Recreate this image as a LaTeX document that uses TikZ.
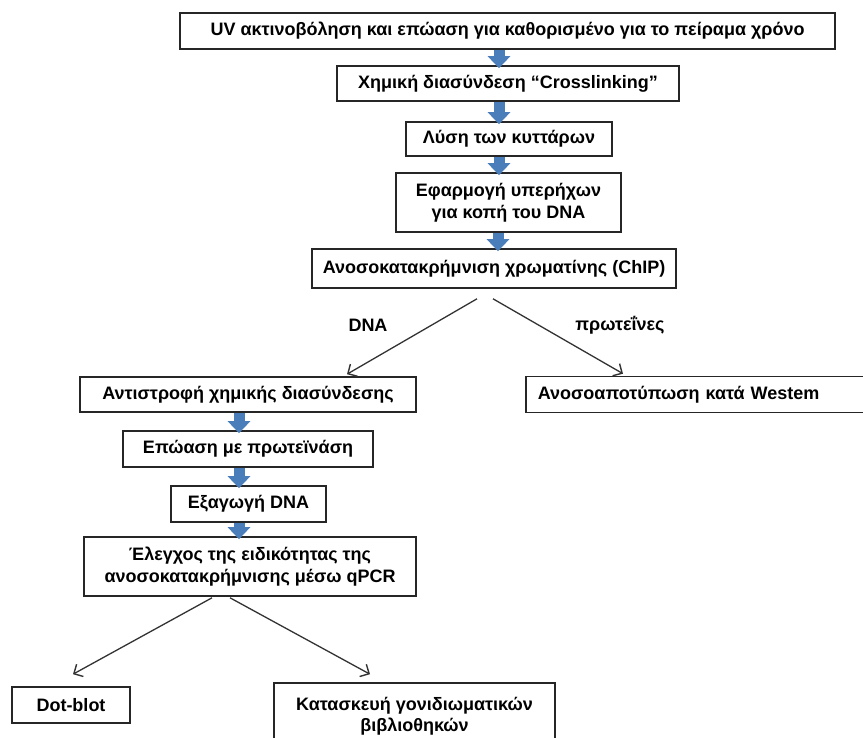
\documentclass[tikz,border=0pt]{standalone}
\usepackage{fontspec}
\setmainfont{Liberation Sans}
\usetikzlibrary{arrows.meta,calc}
\definecolor{arrowblue}{HTML}{4A7EBB}
\begin{document}
\begin{tikzpicture}[x=1pt,y=-1pt,
  box/.style={draw=black!85, line width=1.6pt, fill=white, inner sep=0pt, align=center,
    font=\bfseries\fontsize{18}{21.5}\selectfont},
  lbl/.style={inner sep=0pt, font=\bfseries\fontsize{18}{21.5}\selectfont},
  bluearr/.style={line width=11pt, draw=arrowblue, -{Triangle[width=22pt,length=12pt]}},
  split/.style={line width=1.3pt, draw=black!80, -{Straight Barb[length=7pt,width=14pt,line width=1.4pt]}}]
\path[use as bounding box] (0,0) rectangle (863,738);
\clip (0,0) rectangle (863,738);

\node[box, minimum width=655pt, minimum height=36pt] (b1) at (507.5,31) {UV ακτινοβόληση και επώαση για καθορισμένο για το πείραμα χρόνο};
\node[box, minimum width=342pt, minimum height=35pt] (b2) at (508,83.5) {Χημική διασύνδεση “Crosslinking”};
\node[box, minimum width=206pt, minimum height=34pt] (b3) at (509,139) {Λύση των κυττάρων};
\node[box, minimum width=225pt, minimum height=59pt] (b4) at (508.5,202.5) {Εφαρμογή υπερήχων\\για κοπή του DNA};
\node[box, minimum width=364pt, minimum height=39pt] (b5) at (494,268.5) {Ανοσοκατακρήμνιση χρωματίνης (ChIP)};

\node[box, minimum width=336pt, minimum height=35pt] (b6) at (248,394.5) {Αντιστροφή χημικής διασύνδεσης};
\node[box, anchor=west, minimum height=36pt, text width=343pt, align=left, inner xsep=12pt] (w) at (525,394.5) {Ανοσοαποτύπωση κατά Westem};
\node[box, minimum width=250pt, minimum height=36pt] (b7) at (248,449) {Επώαση με πρωτεϊνάση};
\node[box, minimum width=155pt, minimum height=36pt] (b8) at (248.5,504) {Εξαγωγή DNA};
\node[box, minimum width=332pt, minimum height=59pt] (b9) at (250,566.5) {Έλεγχος της ειδικότητας της\\ανοσοκατακρήμνισης μέσω qPCR};
\node[box, minimum width=118pt, minimum height=36pt] (d) at (71,705) {Dot-blot};
\node[box, minimum width=281pt, minimum height=66pt] (k) at (414.5,716) {Κατασκευή γονιδιωματικών\\βιβλιοθηκών};

\node[lbl] (ldna) at (368,325) {DNA};
\node[lbl] (lprot) at (620,325) {πρωτεΐνες};

\foreach \a/\b/\x in {b1/b2/499, b2/b3/499, b3/b4/499, b4/b5/498, b6/b7/239, b7/b8/239, b8/b9/239}
  \draw[bluearr] (\x,0 |- \a.south) -- ($(\x,0 |- \b.north)+(0,3)$);

\coordinate (s1) at ($(b5.south)+(-17,10)$);
\coordinate (s2) at ($(b5.south)+(-1,10)$);
\coordinate (s3) at ($(b9.south)+(-38,1)$);
\coordinate (s4) at ($(b9.south)+(-20,1)$);
\draw[split] (s1) -- ($(b6.north)+(99,-2)$);
\draw[split] (s2) -- ($(w.north west)+(98,-2)$);
\draw[split] (s3) -- ($(d.north)+(2,-12)$);
\draw[split] (s4) -- ($(k.north)+(-44.5,-8)$);
\end{tikzpicture}
\end{document}
